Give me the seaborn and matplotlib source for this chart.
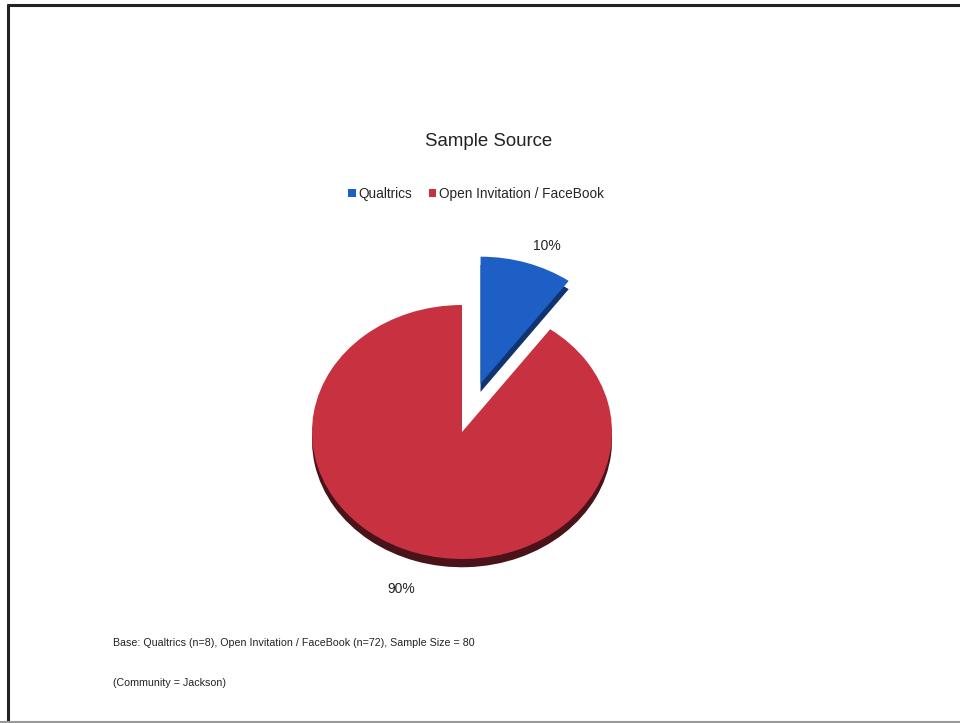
import matplotlib
matplotlib.use("Agg")
import numpy as np
import matplotlib.pyplot as plt
from matplotlib.lines import Line2D
from matplotlib.patches import Patch
import seaborn as sns

# ── data ─────────────────────────────────────────────
sources = ["Qualtrics", "Open Invitation / FaceBook"]
counts = [8, 72]
colors = ["#1d5fc4", "#c8313f"]
dark_colors = ["#0f3470", "#4a1219"]
explode = [0.4, 0.0]
label_dist = [1.14, 1.3]   # how far out each % label sits

sns.set_theme(style="white")
plt.rcParams["font.family"] = ["Liberation Sans", "DejaVu Sans"]

W, H = 960, 723
fig = plt.figure(figsize=(W / 100, H / 100), dpi=100)
fig.patch.set_facecolor("white")

# pie axes: centre at (462, 432) px, rx = 150 px, ry = 127 px
cx, cy, rx, ry, span = 462, 432, 150, 127, 1.6
aw, ah = 2 * span * rx, 2 * span * ry
ax = fig.add_axes([(cx - aw / 2) / W, (H - cy - ah / 2) / H, aw / W, ah / H])

# "3D" side: darker copy of the pie pushed down a bit
ax.pie(counts, colors=dark_colors, explode=explode, startangle=90,
       counterclock=False, center=(0.0, -0.065),
       wedgeprops=dict(linewidth=0))
wedges, _ = ax.pie(counts, colors=colors, explode=explode, startangle=90,
                   counterclock=False, wedgeprops=dict(linewidth=0))

# percentage labels outside the slices
total = sum(counts)
for w, n, e, d in zip(wedges, counts, explode, label_dist):
    mid = np.deg2rad((w.theta1 + w.theta2) / 2)
    r = e + d
    x, y = r * np.cos(mid), r * np.sin(mid)
    ax.text(x, y, f"{n / total:.0%}", ha="left" if x > 0 else "center",
            va="center", fontsize=10, color="#222222")

ax.set_aspect("auto")
ax.set_xlim(-span, span)
ax.set_ylim(-span, span)
ax.axis("off")

# title + legend
fig.text(489 / W, 1 - 141 / H, "Sample Source", ha="center", va="center",
         fontsize=13.4, color="#222222")
handles = [Patch(facecolor=c, edgecolor="none") for c in colors]
fig.legend(handles, sources, loc="center", bbox_to_anchor=(476 / W, 1 - 194 / H),
           ncol=2, frameon=False, fontsize=9.8, handlelength=0.55,
           handleheight=0.55, handletextpad=0.2, columnspacing=1.2)

# footnotes
fig.text(113 / W, 1 - 643 / H,
         f"Base: {sources[0]} (n={counts[0]}), {sources[1]} (n={counts[1]}), "
         f"Sample Size = {total}",
         ha="left", va="center", fontsize=7.7, color="#222222")
fig.text(113 / W, 1 - 683 / H, "(Community = Jackson)",
         ha="left", va="center", fontsize=7.7, color="#222222")

# page border
fig.add_artist(Line2D([8 / W, 1], [1 - 5 / H, 1 - 5 / H], color="#222222", lw=2.2))
fig.add_artist(Line2D([8 / W, 8 / W], [0, 1 - 5 / H], color="#222222", lw=2.2))
fig.add_artist(Line2D([0, 1], [1.5 / H, 1.5 / H], color="#999999", lw=1.5))

fig.savefig("out.png", dpi=100)
